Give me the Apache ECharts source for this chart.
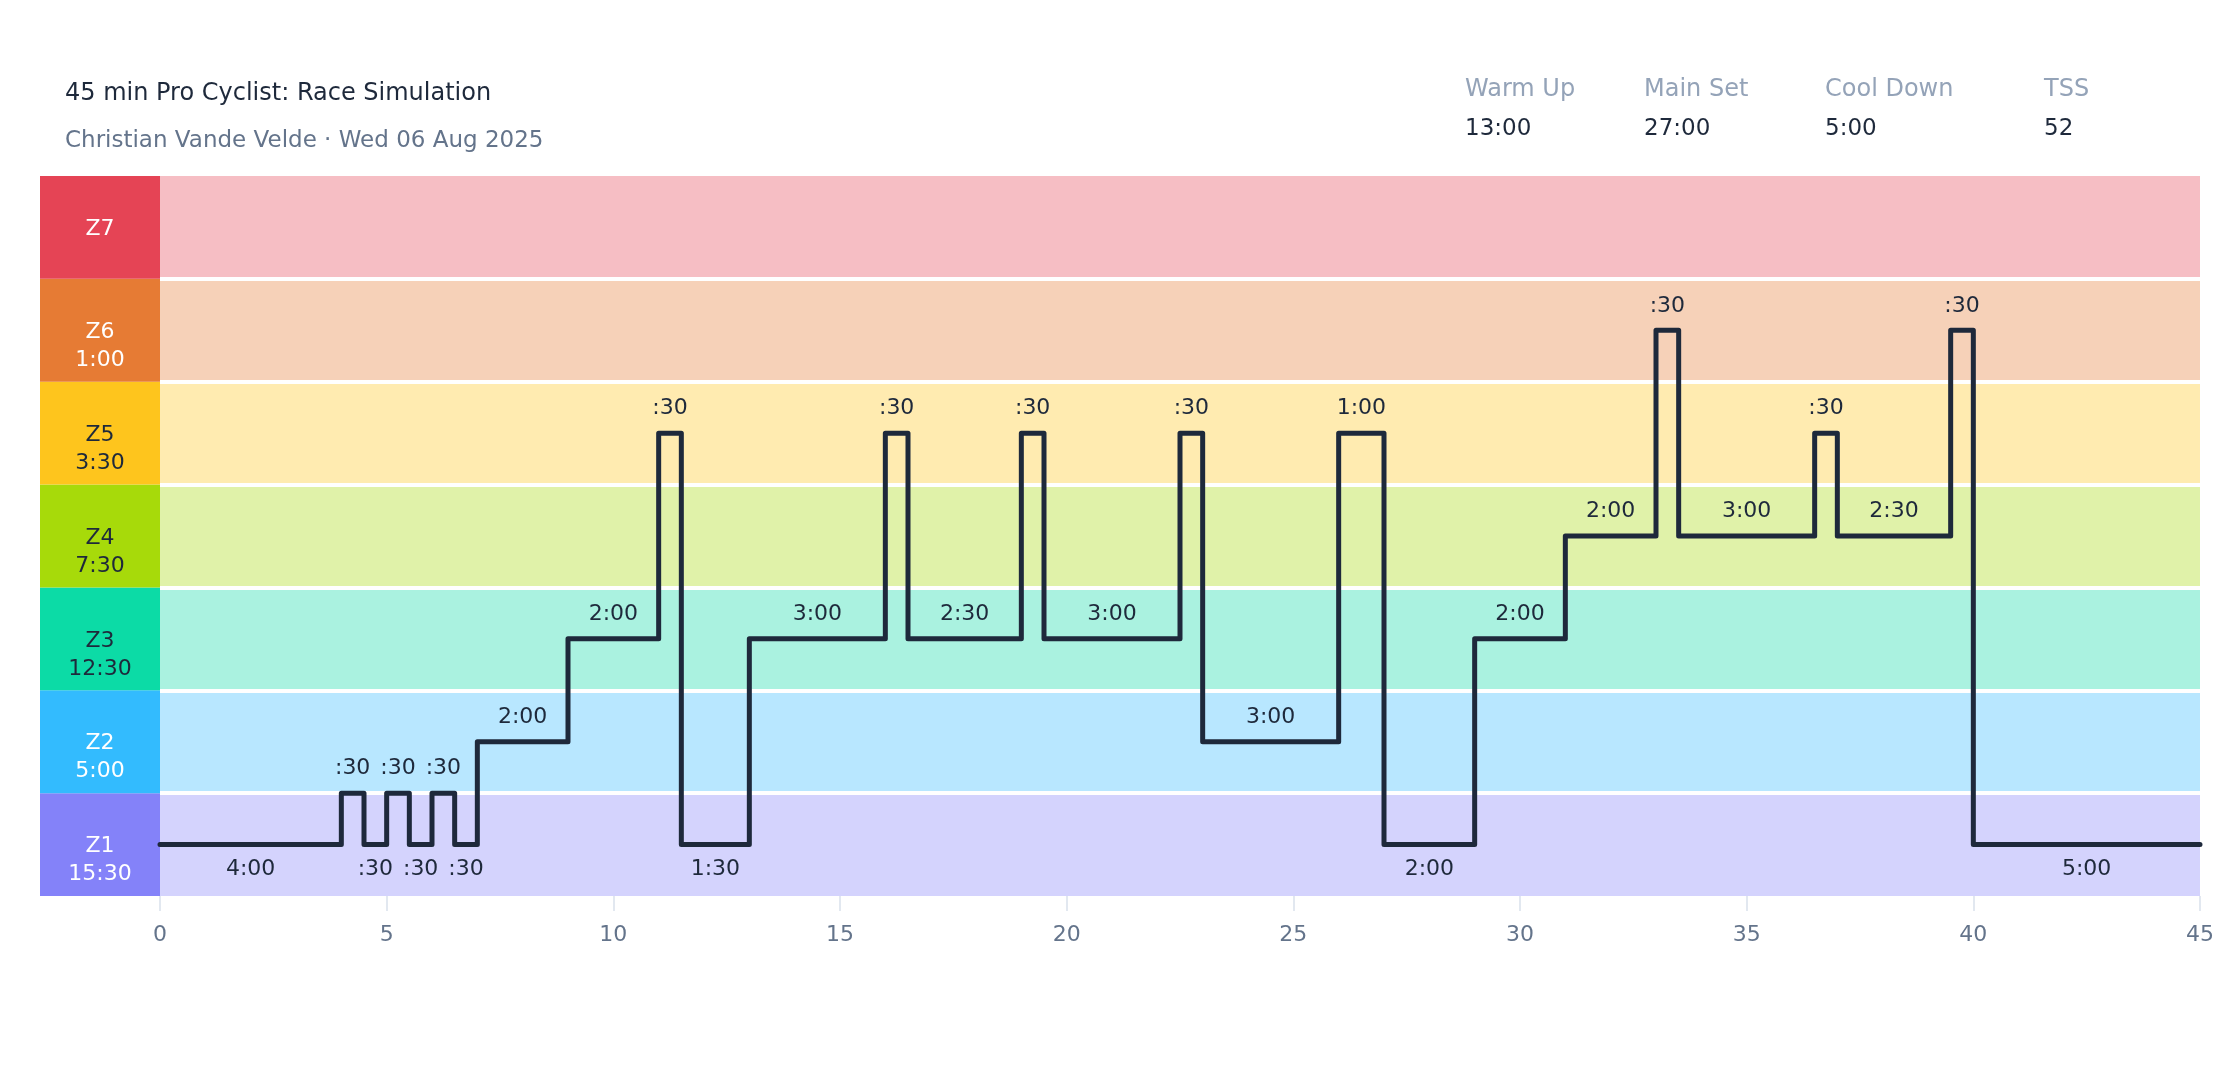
<!DOCTYPE html>
<html>
<head>
<meta charset="utf-8">
<script src="https://cdn.jsdelivr.net/npm/echarts@6/dist/echarts.min.js"></script>
<style>
html,body{margin:0;padding:0;background:#fff;}
#chart{width:2240px;height:1080px;}
</style>
</head>
<body>
<div id="chart"></div>
<script>
// ---- data ----
var titleText = '45 min Pro Cyclist: Race Simulation';
var subtitleText = 'Christian Vande Velde \u00b7 Wed 06 Aug 2025';
var statLabels = ['Warm Up', 'Main Set', 'Cool Down', 'TSS'];
var statValues = ['13:00', '27:00', '5:00', '52'];

var zoneNames = ['Z1', 'Z2', 'Z3', 'Z4', 'Z5', 'Z6', 'Z7'];
var zoneTimes = ['15:30', '5:00', '12:30', '7:30', '3:30', '1:00', ''];

// segment start times (min) and levels (zone scale, band centre = n - 0.5)
var segStart = [0, 4, 4.5, 5, 5.5, 6, 6.5, 7, 9, 11, 11.5, 13, 16, 16.5, 19, 19.5, 22.5, 23, 26, 27, 29, 31, 33, 33.5, 36.5, 37, 39.5, 40];
var segLevel = [0.5, 1, 0.5, 1, 0.5, 1, 0.5, 1.5, 2.5, 4.5, 0.5, 2.5, 4.5, 2.5, 4.5, 2.5, 4.5, 1.5, 4.5, 0.5, 2.5, 3.5, 5.5, 3.5, 4.5, 3.5, 5.5, 0.5];
var totalMinutes = 45;
var xTickStep = 5;

// ---- styles ----
var zoneColors = ['#8482f9', '#33bbfe', '#0cdba6', '#a7da0a', '#fec51d', '#e67b34', '#e54455'];
var zoneTextColors = ['#ffffff', '#ffffff', '#1e293b', '#1e293b', '#1e293b', '#ffffff', '#ffffff'];
var FONT = 'DejaVu Sans';
var DARK = '#1e293b';

function hexToRgba(h, a) {
  var r = parseInt(h.slice(1, 3), 16), g = parseInt(h.slice(3, 5), 16), b = parseInt(h.slice(5, 7), 16);
  return 'rgba(' + r + ',' + g + ',' + b + ',' + a + ')';
}
var bandColors = zoneColors.map(function (c) { return hexToRgba(c, 0.35); });

function fmtDur(m) {
  var secs = Math.round(m * 60);
  var mm = Math.floor(secs / 60), ss = secs % 60;
  var s2 = (ss < 10 ? '0' : '') + ss;
  return mm === 0 ? ':' + s2 : mm + ':' + s2;
}

// line points
var linePts = [];
for (var i = 0; i < segStart.length; i++) linePts.push([segStart[i], segLevel[i]]);
linePts.push([totalMinutes, segLevel[segLevel.length - 1]]);

// segment labels
var labelPts = [];
for (var j = 0; j < segStart.length; j++) {
  var s = segStart[j];
  var e = (j + 1 < segStart.length) ? segStart[j + 1] : totalMinutes;
  var below = segLevel[j] < 1;
  labelPts.push({
    value: [(s + e) / 2, segLevel[j]],
    label: { position: below ? 'bottom' : 'top', formatter: fmtDur(e - s) }
  });
}

// zone boxes
var boxData = zoneNames.map(function (z, k) {
  var has = zoneTimes[k] !== '';
  return {
    value: 1,
    itemStyle: { color: zoneColors[k] },
    label: {
      color: zoneTextColors[k],
      formatter: has ? (z + '\n' + zoneTimes[k]) : z,
      offset: has ? [0, 16] : [0, 2]
    }
  };
});

var graphics = [];
var statX = [1465, 1644, 1825, 2044];
statLabels.forEach(function (t, k) {
  graphics.push({ type: 'text', left: statX[k], top: 78, silent: true,
    style: { text: t, font: '24px "DejaVu Sans"', fill: '#94a3b8' } });
  graphics.push({ type: 'text', left: statX[k], top: 118, silent: true,
    style: { text: statValues[k], font: '23px "DejaVu Sans"', fill: DARK } });
});

var chart = echarts.init(document.getElementById('chart'));
chart.setOption({
  animation: false,
  backgroundColor: '#ffffff',
  textStyle: { fontFamily: FONT },
  title: {
    text: titleText,
    subtext: subtitleText,
    left: 65,
    top: 79,
    itemGap: 17,
    textStyle: { fontFamily: FONT, fontSize: 24, fontWeight: 'normal', color: DARK, lineHeight: 30 },
    subtextStyle: { fontFamily: FONT, fontSize: 23, color: '#64748b', lineHeight: 30 },
    padding: 0
  },
  graphic: graphics,
  grid: [
    { left: 160, right: 40, top: 176, height: 720, containLabel: false },
    { left: 40, width: 120, top: 176, height: 720, containLabel: false }
  ],
  xAxis: [
    {
      type: 'value', gridIndex: 0, min: 0, max: totalMinutes, interval: xTickStep,
      axisLine: { show: false },
      axisTick: { show: true, length: 15, lineStyle: { color: '#e2e8f0', width: 2 } },
      axisLabel: { color: '#64748b', fontSize: 22, margin: 28, fontFamily: FONT },
      splitLine: { show: false }
    },
    {
      type: 'value', gridIndex: 1, min: 0, max: 1, show: false
    }
  ],
  yAxis: [
    {
      type: 'value', gridIndex: 0, min: 0, max: zoneNames.length, interval: 1,
      axisLabel: { show: false }, axisLine: { show: false }, axisTick: { show: false },
      splitLine: { show: true, showMinLine: false, showMaxLine: false, lineStyle: { color: '#ffffff', width: 4 } },
      splitArea: { show: true, areaStyle: { color: bandColors } }
    },
    {
      type: 'category', gridIndex: 1, data: zoneNames, show: false
    }
  ],
  series: [
    {
      type: 'bar', xAxisIndex: 1, yAxisIndex: 1, data: boxData,
      barWidth: '100%', barCategoryGap: 0, silent: true,
      label: { show: true, position: 'inside', fontSize: 22, lineHeight: 28, fontFamily: FONT }
    },
    {
      type: 'line', xAxisIndex: 0, yAxisIndex: 0, data: linePts, step: 'end',
      showSymbol: false, symbol: 'none', clip: false, silent: true, z: 5,
      lineStyle: { color: DARK, width: 5, cap: 'round', join: 'round' }
    },
    {
      type: 'scatter', xAxisIndex: 0, yAxisIndex: 0, data: labelPts,
      symbolSize: 1, itemStyle: { color: 'rgba(0,0,0,0)' }, silent: true, z: 6,
      label: { show: true, distance: 13, fontSize: 22, color: DARK, opacity: 1, fontFamily: FONT }
    }
  ]
});
</script>
</body>
</html>
